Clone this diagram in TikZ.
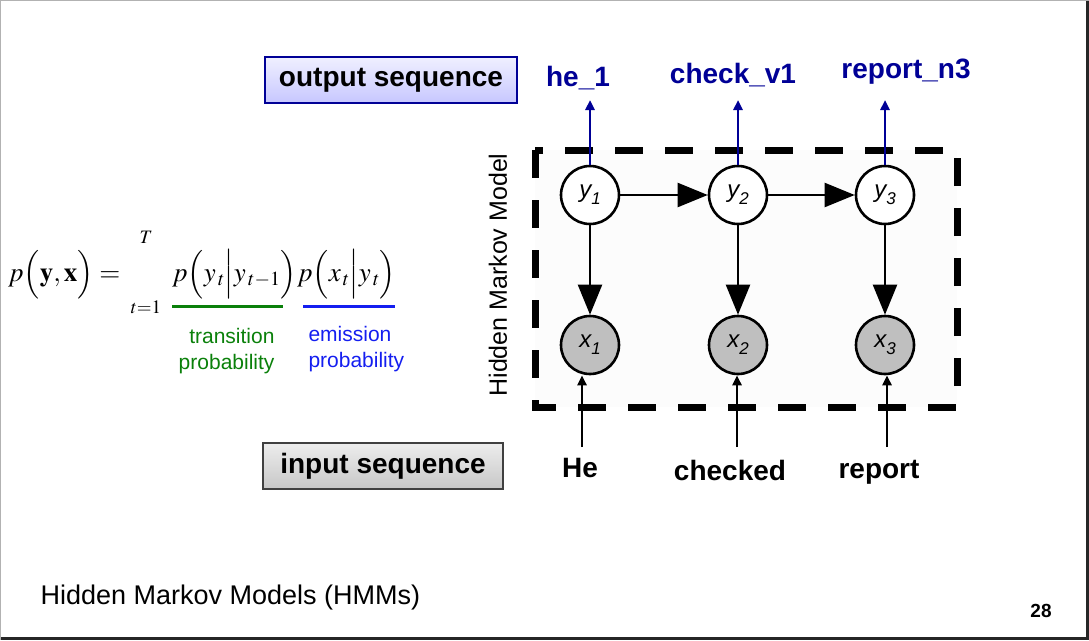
\documentclass[tikz,border=0pt]{standalone}
\usepackage{mathptmx}
\usepackage[no-math]{fontspec}
\setmainfont{Liberation Sans}
\usetikzlibrary{arrows.meta}
\newcommand{\hmmvar}[2]{#1\raisebox{-0.3em}{\fontsize{17}{17}\selectfont #2}}
\begin{document}
\begin{tikzpicture}[x=1pt,y=-1pt,
  hid/.style={circle,draw,line width=2.6pt,fill=white,minimum size=58pt,inner sep=0pt,font=\fontsize{24}{26}\selectfont\itshape},
  obs/.style={hid,fill=gray!50},
  big/.style={line width=2.2pt,-{Triangle[length=30pt,width=24pt]}},
  small/.style={line width=2.6pt,-{Triangle[length=10pt,width=9pt]}},
  lbl/.style={font=\fontsize{28}{30}\selectfont\bfseries},
  seqbox/.style={draw,line width=1.2pt,minimum height=46pt,inner sep=0pt,font=\fontsize{28}{30}\selectfont\bfseries},
  eq/.style={inner sep=0pt,font=\fontsize{27}{30}\selectfont}]
\definecolor{navy}{RGB}{0,0,150}
\definecolor{trgreen}{RGB}{10,128,10}
\definecolor{emblue}{RGB}{20,30,240}
\useasboundingbox (0,0) rectangle (1089,640);
\draw[gray!60, line width=1pt] (0.5,0.5) rectangle (1088.5,639.5);
\draw[black!85, line width=3pt] (1087.5,1) -- (1087.5,638.5) -- (1,638.5);
\fill[black!1] (535,150) rectangle (957,407);
\draw[line width=7pt, dash pattern=on 28pt off 22pt] (535,150) rectangle (957,407);
\node[seqbox, minimum width=252pt, draw=navy, top color=blue!6, bottom color=blue!22] (outseq) at (391,80) {output sequence};
\node[seqbox, minimum width=240pt, draw=black!75, top color=black!7, bottom color=black!22] (inseq) at (383,466) {input sequence};
\node[rotate=90, font=\fontsize{25}{27}\selectfont] (hmm) at (498,275) {Hidden Markov Model};
\node[hid] (y1) at (590,195) {\hmmvar{y}{1}};
\node[hid] (y2) at (738,195) {\hmmvar{y}{2}};
\node[hid] (y3) at (885,195) {\hmmvar{y}{3}};
\node[obs] (x1) at (590,345) {\hmmvar{x}{1}};
\node[obs] (x2) at (738,345) {\hmmvar{x}{2}};
\node[obs] (x3) at (885,345) {\hmmvar{x}{3}};
\draw[big] (y1) -- (y2);
\draw[big] (y2) -- (y3);
\draw[big] (y1) -- (x1);
\draw[big] (y2) -- (x2);
\draw[big] (y3) -- (x3);
\path (0,100) coordinate (top);
\draw[small, navy] (y1.north) -- (y1.north |- top);
\draw[small, navy] (y2.north) -- (y2.north |- top);
\draw[small, navy] (y3.north) -- (y3.north |- top);
\node[lbl, navy, anchor=base] (he1) at (578,86) {he\_1};
\node[lbl, navy, anchor=base] (check) at (733,83) {check\_v1};
\node[lbl, navy, anchor=base] (reportn) at (906,78) {report\_n3};
\coordinate (i1) at (582,447);
\coordinate (i2) at (737,447);
\coordinate (i3) at (887,447);
\draw[small] (i1) -- (i1 |- x1.south);
\draw[small] (i2) -- (i2 |- x2.south);
\draw[small] (i3) -- (i3 |- x3.south);
\node[lbl, anchor=base] (he) at (580,477) {He};
\node[lbl, anchor=base] (checked) at (730,480) {checked};
\node[lbl, anchor=base] (report) at (879,478) {report};
\node[eq, anchor=base west] (lhs) at (8,281) {$p\Bigl(\mathbf{y},\mathbf{x}\Bigr)=$};
\node[eq, font=\fontsize{19}{20}\selectfont] (uplim) at (146,237) {$T$};
\node[eq, font=\fontsize{19}{20}\selectfont] (lowlim) at (146,307) {$t{=}1$};
\node[eq, anchor=base west] (transp) at (172,281) {$p\Bigl(y_{\,t}\Big| y_{\,t-1}\Bigr)$};
\node[eq, anchor=base west] (emisp) at (transp.base east) {$p\Bigl(x_{\,t}\Big| y_{\,t}\Bigr)$};
\draw[trgreen, line width=3pt] (172,306) -- (283,306);
\draw[emblue, line width=3pt] (303,306) -- (395,306);
\node[anchor=east, align=right, text=trgreen, font=\fontsize{21}{26}\selectfont] (trans) at (278,351) {transition\\probability};
\node[anchor=west, align=left, text=emblue, font=\fontsize{21}{26}\selectfont] (emis) at (305,349) {emission\\probability};
\node[anchor=base west, font=\fontsize{27}{30}\selectfont] (title) at (37,604) {Hidden Markov Models (HMMs)};
\node[font=\fontsize{19}{20}\selectfont\bfseries] (page) at (1041,611) {28};
\end{tikzpicture}
\end{document}
